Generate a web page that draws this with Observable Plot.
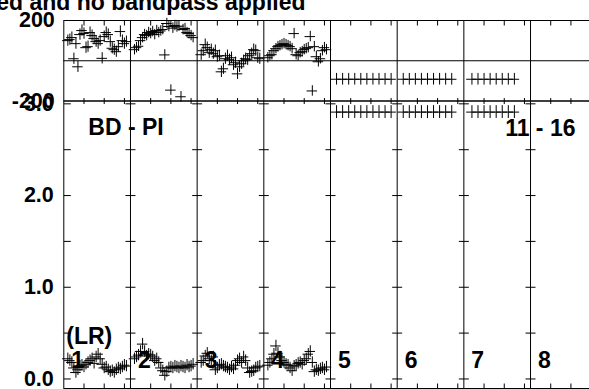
<!DOCTYPE html>
<html><head><meta charset="utf-8">
<script src="https://cdn.jsdelivr.net/npm/d3@7"></script>
<script src="https://cdn.jsdelivr.net/npm/@observablehq/plot@0.6"></script>
<style>
html,body{margin:0;padding:0;background:#fff;overflow:hidden;}
#wrap{position:relative;width:589px;height:389px;overflow:hidden;background:#fff;}
#wrap svg{position:absolute;left:0;top:0;}
</style></head><body><div id="wrap"></div>
<script>
// ---------- data ----------
const titleText = "ed and no bandpass applied";
const baselineLabel = "BD - PI";
const timeLabel = "11 - 16";
const stokesLabel = "(LR)";
const ifLabels = ["1", "2", "3", "4", "5", "6", "7", "8"];
const channelsPerIF = 33;               // channel slots per IF panel
const channels = [2,3,4,5,6,7,8,9,10,11,12,13,14,15,16,17,18,19,20,21,22,23,24,25,26,27,28,29,30,31];
const xTickChannels = [10, 20, 30];
const phaseLabels = [-200, 200];
const ampLabels = [0, 1, 2, 3];
const ampTicks = [0, 0.5, 1, 1.5, 2, 2.5, 3];
const phaseDomain = [-200, 200];
const ampDomain = [-0.104, 3.031];

// phase (degrees) per channel, IF 1-4
const phaseIF1 = [100,105,115,10,85,-30,130,150,135,65,70,140,125,110,95,85,100,12,120,140,130,95,62,55,45,70,145,100,85,95];
const phaseIF2 = [55,65,72,100,115,130,125,140,135,145,130,150,140,148,155,29,185,170,-146,162,175,168,172,-179,155,160,140,135,125,115];
const phaseIF3 = [30,50,80,65,40,55,35,50,20,25,-55,-40,10,25,5,15,-20,-10,-65,-30,-15,0,10,5,25,35,55,50,15,10];
const phaseIF4 = [15,25,30,50,60,70,75,80,85,80,75,70,60,135,30,25,40,45,55,60,65,120,-150,70,20,-5,10,50,65,55];
// amplitude per channel, IF 1-4
const ampIF1 = [0.22,0.2,0.18,0.12,0.07,0.1,0.14,0.15,0.13,0.16,0.18,0.2,0.22,0.17,0.24,0.27,0.22,0.16,0.12,0.13,0.1,0.08,0.09,0.07,0.1,0.12,0.11,0.13,0.15,0.14];
const ampIF2 = [0.22,0.24,0.26,0.3,0.38,0.3,0.25,0.27,0.26,0.24,0.2,0.22,0.18,0.12,0.09,0.04,0.08,0.12,0.13,0.12,0.14,0.13,0.12,0.14,0.13,0.12,0.15,0.13,0.14,0.16];
const ampIF3 = [0.18,0.2,0.25,0.28,0.22,0.2,0.24,0.1,0.12,0.15,0.16,0.14,0.13,0.12,0.1,0.13,0.11,0.15,0.2,0.22,0.18,0.24,0.2,0.12,0.07,0.08,0.09,0.12,0.13,0.14];
const ampIF4 = [0.15,0.18,0.22,0.27,0.36,0.28,0.24,0.2,0.18,0.16,0.15,0.12,0.09,0.14,0.15,0.17,0.18,0.16,0.2,0.22,0.27,0.3,0.18,0.08,0.1,0.09,0.11,0.12,0.1,0.13];
const phaseErr = [28, 26, 28, 26];
const ampErr = [0.062, 0.062, 0.062, 0.062];
// IF 5-7: flat rows
const chIF5 = [3,6,9,12,15,18,21,24,27,30];
const chIF6 = [3,6,9,12,15,18,21,24,27];
const chIF7 = [4,7,10,13,16,19,22,25];
const phaseFlat = [-92, -92, -92];
const ampFlat = [2.91, 2.91, 2.91];
const phaseFlatErr = 29;
const ampFlatErr = 0.07;
const chHalfWidth = 2.6;                // horizontal arm of each cross, in channels

// ---------- derived tables ----------
const panelStarts = ifLabels.map((d, i) => i * channelsPerIF);
const dividers = panelStarts.slice(1);
const xTicks = panelStarts.flatMap(s => xTickChannels.map(c => s + c));
const divTicks = dividers.flatMap(x => ampTicks.map(y => ({x, y})));
const phaseSeries = [phaseIF1, phaseIF2, phaseIF3, phaseIF4];
const ampSeries = [ampIF1, ampIF2, ampIF3, ampIF4];
const pts = [];
phaseSeries.forEach((arr, p) => arr.forEach((v, i) => pts.push({
  x: panelStarts[p] + channels[i], phase: v, amp: ampSeries[p][i], pe: phaseErr[p], ae: ampErr[p]})));
[chIF5, chIF6, chIF7].forEach((chs, j) => chs.forEach(c => pts.push({
  x: panelStarts[4 + j] + c, phase: phaseFlat[j], amp: ampFlat[j], pe: phaseFlatErr, ae: ampFlatErr})));

// ---------- tick symbols ----------
const sym = f => ({draw(ctx, size) { const r = Math.sqrt(size / Math.PI); f(ctx, r); }});
const tickDown = sym((c, r) => { c.moveTo(0, 0); c.lineTo(0, r); });
const tickUp = sym((c, r) => { c.moveTo(0, 0); c.lineTo(0, -r); });
const tickV = sym((c, r) => { c.moveTo(0, -r); c.lineTo(0, r); });
const tickH = sym((c, r) => { c.moveTo(-r, 0); c.lineTo(r, 0); });
const tickRight = sym((c, r) => { c.moveTo(0, 0); c.lineTo(r, 0); });

const FONT = "'Liberation Sans', Arial, Helvetica, sans-serif";
const ink = "#000";
const common = {
  width: 589, height: 389, marginLeft: 63.3, marginRight: -7.7,
  style: {background: "transparent", fontFamily: FONT, fontWeight: "bold", overflow: "hidden", color: ink},
  x: {domain: [0, ifLabels.length * channelsPerIF], axis: null}
};
const crosses = (yKey, eKey) => [
  Plot.ruleX(pts, {x: "x", y1: d => d[yKey] - d[eKey], y2: d => d[yKey] + d[eKey], stroke: ink, strokeWidth: 1}),
  Plot.ruleY(pts, {y: yKey, x1: d => d.x - chHalfWidth, x2: d => d.x + chHalfWidth, stroke: ink, strokeWidth: 1})
];

const topPlot = Plot.plot({
  ...common, marginTop: 20, marginBottom: 288.5,
  y: {domain: phaseDomain, axis: null, label: null},
  marks: [
    Plot.frame({stroke: ink}),
    Plot.ruleY([0], {stroke: ink}),
    Plot.ruleX(dividers, {stroke: ink}),
    Plot.dot(xTicks, {x: d => d, frameAnchor: "top", symbol: tickDown, r: 5, stroke: ink, fill: "none", strokeWidth: 1}),
    ...crosses("phase", "pe"),
    Plot.axisY(phaseLabels, {anchor: "left", tickSize: 0, tickPadding: 9, label: null, tickFormat: d => String(d), fontSize: 21.5, fontWeight: "bold", fill: ink}),
    Plot.text([titleText], {frameAnchor: "top-left", dx: 241.7, dy: -11, textAnchor: "end", lineAnchor: "bottom", fontSize: 23, fontWeight: "bold", fill: ink})
  ]
});

const botPlot = Plot.plot({
  ...common, marginTop: 100.5, marginBottom: 1,
  y: {domain: ampDomain, axis: null, label: null},
  marks: [
    Plot.frame({stroke: ink}),
    Plot.ruleX(dividers, {stroke: ink}),
    Plot.dot(xTicks, {x: d => d, frameAnchor: "top", symbol: tickV, r: 3, stroke: ink, fill: "none", strokeWidth: 1}),
    Plot.dot(xTicks, {x: d => d, frameAnchor: "bottom", symbol: tickUp, r: 5, stroke: ink, fill: "none", strokeWidth: 1}),
    Plot.dot(divTicks, {x: "x", y: "y", symbol: tickH, r: 5, stroke: ink, fill: "none", strokeWidth: 1}),
    Plot.dot(ampTicks, {y: d => d, frameAnchor: "left", symbol: tickRight, r: 7, stroke: ink, fill: "none", strokeWidth: 1}),
    ...crosses("amp", "ae"),
    Plot.axisY(ampLabels, {anchor: "left", tickSize: 0, tickPadding: 10, label: null, tickFormat: d => d.toFixed(1), fontSize: 21.5, fontWeight: "bold", fill: ink}),
    Plot.text([baselineLabel], {frameAnchor: "top-left", dx: 24.5, dy: 34, textAnchor: "start", lineAnchor: "bottom", fontSize: 23, fontWeight: "bold", fill: ink}),
    Plot.text([timeLabel], {frameAnchor: "top-right", dx: -21.7, dy: 34.5, textAnchor: "end", lineAnchor: "bottom", fontSize: 23, fontWeight: "bold", fill: ink}),
    Plot.text([stokesLabel], {frameAnchor: "bottom-left", dx: 2.5, dy: -44.5, textAnchor: "start", lineAnchor: "bottom", fontSize: 23, fontWeight: "bold", fill: ink}),
    Plot.text(ifLabels, {x: (d, i) => panelStarts[i], frameAnchor: "bottom", dx: 7.5, dy: -21, textAnchor: "start", lineAnchor: "bottom", fontSize: 23, fontWeight: "bold", fill: ink})
  ]
});

const wrap = document.getElementById("wrap");
wrap.append(topPlot, botPlot);
</script></body></html>
